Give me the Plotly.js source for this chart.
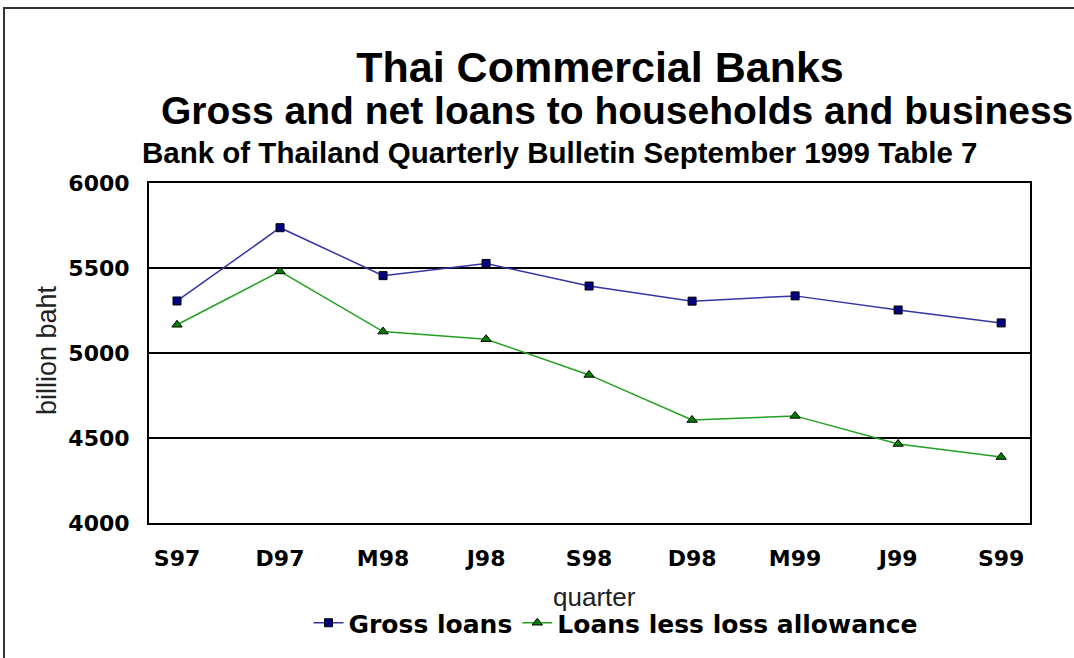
<!DOCTYPE html>
<html>
<head>
<meta charset="utf-8">
<script src="https://cdn.plot.ly/plotly-3.0.1.min.js"></script>
<style>
html,body{margin:0;padding:0;background:#fff;}
#chart{width:1074px;height:658px;}
</style>
</head>
<body>
<div id="chart"></div>
<script>
const quarters = ["S97","D97","M98","J98","S98","D98","M99","J99","S99"];
const grossLoans = [5306, 5737, 5455, 5527, 5394, 5305, 5336, 5253, 5177];
const netLoans = [5166, 5480, 5126, 5081, 4871, 4606, 4630, 4465, 4388];
const seriesNames = ["Gross loans", "Loans less loss allowance"];
const yTicks = [4000, 4500, 5000, 5500, 6000];

const L = 149, R = 1030, T = 183, B = 523, W = 1074, H = 658;
const px = x => (x - L) / (R - L);
const py = y => (B - y) / (B - T);

const traces = [
  {
    x: quarters, y: grossLoans, name: seriesNames[0], type: "scatter", mode: "lines+markers",
    line: {color: "#3434a6", width: 1.5},
    marker: {symbol: "square", size: 8, color: "#000080", line: {color: "#000", width: 1}}
  },
  {
    x: quarters, y: netLoans, name: seriesNames[1], type: "scatter", mode: "lines+markers",
    line: {color: "#22a022", width: 1.5},
    marker: {symbol: "triangle-up", size: 9, color: "#008000", line: {color: "#000", width: 1}}
  }
];

const layout = {
  width: W, height: H,
  paper_bgcolor: "#fff", plot_bgcolor: "#fff",
  margin: {l: L, r: W - R, t: T, b: H - B, pad: 0},
  showlegend: true,
  title: {
    text: "<b>Thai Commercial Banks</b>",
    font: {family: "Liberation Sans, Arial, sans-serif", size: 43, color: "#000"},
    x: 600 / W, xanchor: "center", xref: "container",
    y: 1 - 67 / H, yanchor: "middle", yref: "container"
  },
  xaxis: {
    type: "category", range: [-0.272, 8.28],
    showgrid: false, zeroline: false,
    showline: true, mirror: true, linecolor: "#000", linewidth: 2,
    ticks: "", ticklabelstandoff: 15,
    tickfont: {family: "DejaVu Sans, Verdana, sans-serif", size: 22, color: "#000", weight: "bold"},
    fixedrange: true
  },
  yaxis: {
    range: [4000, 6000], tickvals: yTicks, ticktext: yTicks.map(String),
    showgrid: true, gridcolor: "#000", gridwidth: 1.3, zeroline: false,
    showline: true, mirror: true, linecolor: "#000", linewidth: 2,
    ticks: "", ticklabelstandoff: 13,
    tickfont: {family: "DejaVu Sans, Verdana, sans-serif", size: 22, color: "#000", weight: "bold"},
    fixedrange: true
  },
  legend: {
    orientation: "h", x: px(616), xanchor: "center", y: py(623), yanchor: "middle",
    bgcolor: "rgba(0,0,0,0)",
    font: {family: "DejaVu Sans, Verdana, sans-serif", size: 25, color: "#000", weight: "bold"},
    itemwidth: 30, tracegroupgap: 0
  },
  annotations: [
    {
      text: "<b>Gross and net loans to households and business</b>",
      xref: "paper", yref: "paper", x: px(617), y: py(110), xanchor: "center", yanchor: "middle",
      showarrow: false, font: {family: "Liberation Sans, Arial, sans-serif", size: 39, color: "#000"}
    },
    {
      text: "<b>Bank of Thailand Quarterly Bulletin September 1999 Table 7</b>",
      xref: "paper", yref: "paper", x: px(560), y: py(152), xanchor: "center", yanchor: "middle",
      showarrow: false, font: {family: "Liberation Sans, Arial, sans-serif", size: 29.5, color: "#000"}
    },
    {
      text: "billion baht", textangle: -90,
      xref: "paper", yref: "paper", x: px(47), y: py(350), xanchor: "center", yanchor: "middle",
      showarrow: false, font: {family: "Liberation Sans, Arial, sans-serif", size: 27, color: "#222"}
    },
    {
      text: "quarter",
      xref: "paper", yref: "paper", x: px(594), y: py(597), xanchor: "center", yanchor: "middle",
      showarrow: false, font: {family: "Liberation Sans, Arial, sans-serif", size: 26, color: "#222"}
    }
  ],
  shapes: [
    {
      type: "rect", xref: "paper", yref: "paper", layer: "below",
      x0: px(4), x1: px(1090), y0: py(680), y1: py(8),
      line: {color: "#333", width: 2}, fillcolor: "rgba(0,0,0,0)"
    }
  ]
};

Plotly.newPlot("chart", traces, layout, {displayModeBar: false, staticPlot: true});
</script>
</body>
</html>
